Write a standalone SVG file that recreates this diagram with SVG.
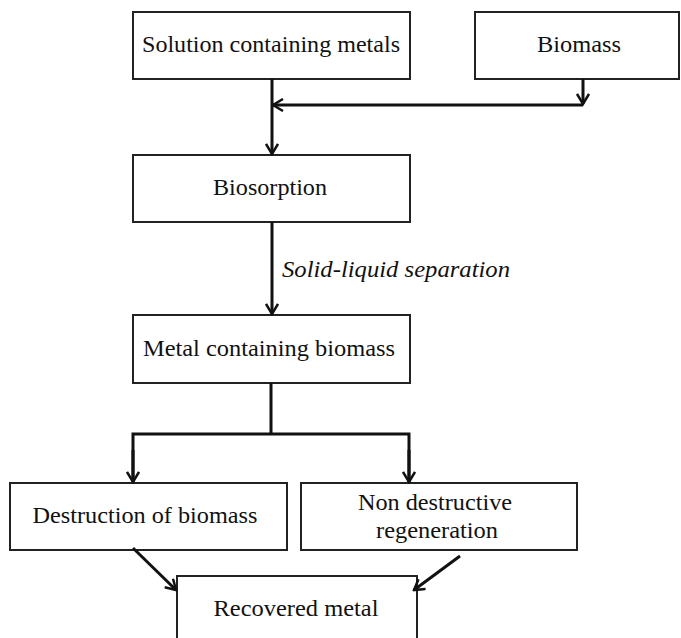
<svg xmlns="http://www.w3.org/2000/svg" width="681" height="638" viewBox="0 0 681 638">
<style>
.box{fill:#fff;stroke:#222;stroke-width:2}
.t{font-family:"Liberation Serif","DejaVu Serif",serif;font-size:24px;fill:#111;text-anchor:middle}
.it{font-family:"Liberation Serif","DejaVu Serif",serif;font-size:23px;fill:#111;font-style:italic}
.c{fill:none;stroke:#111;stroke-width:3}
</style>
<defs>
<marker id="ah" viewBox="0 0 14 14" refX="12" refY="7" markerWidth="14" markerHeight="14" markerUnits="userSpaceOnUse" orient="auto">
<polyline points="2,1 12,7 2,13" fill="none" stroke="#111" stroke-width="2.5"/>
</marker>
</defs>
<rect width="681" height="638" fill="#fff"/>
<g id="n1"><rect class="box" x="133" y="12" width="277" height="67"/><text class="t" x="271" y="52" textLength="258" lengthAdjust="spacingAndGlyphs">Solution containing metals</text></g>
<g id="n2"><rect class="box" x="475" y="12" width="204" height="67"/><text class="t" x="579" y="52" textLength="84" lengthAdjust="spacingAndGlyphs">Biomass</text></g>
<g id="n3"><rect class="box" x="133" y="155" width="277" height="67"/><text class="t" x="270" y="195" textLength="114" lengthAdjust="spacingAndGlyphs">Biosorption</text></g>
<g id="n4"><rect class="box" x="133" y="315" width="277" height="68"/><text class="t" x="269" y="356" textLength="252" lengthAdjust="spacingAndGlyphs">Metal containing biomass</text></g>
<g id="n5"><rect class="box" x="10" y="483" width="277" height="67"/><text class="t" x="145" y="523" textLength="225" lengthAdjust="spacingAndGlyphs">Destruction of biomass</text></g>
<g id="n6"><rect class="box" x="301" y="483" width="276" height="67"/><text class="t" x="435" y="510" textLength="154" lengthAdjust="spacingAndGlyphs">Non destructive</text><text class="t" x="437" y="538" textLength="122" lengthAdjust="spacingAndGlyphs">regeneration</text></g>
<g id="n7"><rect class="box" x="177" y="576" width="240" height="70"/><text class="t" x="296" y="616" textLength="165" lengthAdjust="spacingAndGlyphs">Recovered metal</text></g>
<g id="connectors">
<path class="c" d="M272,79 V154" marker-end="url(#ah)"/>
<path class="c" d="M583,79 V104" marker-end="url(#ah)"/>
<path class="c" d="M583,105 H273" marker-end="url(#ah)"/>
<path class="c" d="M272,222 V314" marker-end="url(#ah)"/>
<path class="c" d="M271,383 V434"/>
<path class="c" d="M133,482 V434 H409 V482"/>
<path class="c" d="M133,450 V482" marker-end="url(#ah)"/>
<path class="c" d="M409,450 V482" marker-end="url(#ah)"/>
<path class="c" d="M133,548 L176,590" marker-end="url(#ah)"/>
<path class="c" d="M460,556 L414,590" marker-end="url(#ah)"/>
<text class="it" x="282" y="277" textLength="228" lengthAdjust="spacingAndGlyphs">Solid-liquid separation</text>
</g>
</svg>
